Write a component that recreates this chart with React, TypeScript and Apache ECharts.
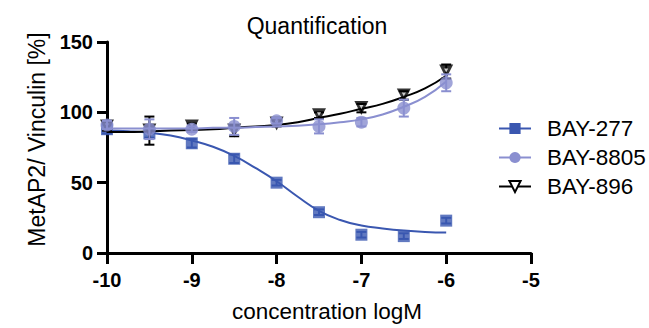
import React, { useEffect, useRef } from "react";
import * as echarts from "echarts";

const doses = [-10, -9.5, -9, -8.5, -8, -7.5, -7, -6.5, -6];
const bay277 = [88, 85, 78, 67, 50, 29, 13, 12, 23];
const bay277Err = [3, 3, 3, 3, 2, 2, 2, 2, 2];
const bay8805 = [91, 88, 88, 90, 94, 90, 93, 103, 121];
const bay8805Err = [3, 7, 2, 6, 2, 5, 3, 6, 6];
const bay896 = [90, 87, 90, 87, 92, 98, 103, 112, 129];
const bay896Err = [3, 10, 2, 4, 2, 2, 3, 3, 5];

// fitted curves
const fitX = [-10, -9.75, -9.5, -9.25, -9, -8.75, -8.5, -8.25, -8, -7.75, -7.5, -7.25, -7, -6.75, -6.5, -6.25, -6];
const fit277 = [87, 86.5, 85.5, 83.5, 80, 75.5, 69, 60.5, 51, 40, 30, 23.5, 19.5, 17.5, 16, 15, 14.5];
const fit8805 = [88.5, 88.5, 88.5, 88.5, 88.5, 89, 89, 89.5, 90, 90.5, 91.5, 93, 95, 98.5, 104, 111, 122];
const fit896 = [86, 86, 86.5, 87, 87.5, 88, 89, 90, 91, 93, 96, 99, 102.5, 106, 111, 117, 126];

const names = ["BAY-277", "BAY-8805", "BAY-896"];
const colors = ["#3a57b0", "#8a8fd0", "#000000"];

const FONT = "Liberation Sans, Arial, sans-serif";

export default function App() {
  const ref = useRef<HTMLDivElement>(null);
  useEffect(() => {
    document.body.style.margin = "0";
    const chart = echarts.init(ref.current!, undefined, { renderer: "svg" });
    const pts = (ys: number[]) => doses.map((x, i) => [x, ys[i]]);
    const errData = (ys: number[], es: number[]) => doses.map((x, i) => [x, ys[i] - es[i], ys[i] + es[i]]);
    const fit = (ys: number[]) => fitX.map((x, i) => [x, ys[i]]);
    const errSeries = (ys: number[], es: number[], color: string, z: number) => ({
      type: "custom",
      z,
      silent: true,
      renderItem: (params: any, api: any) => {
        const x = api.value(0);
        const lo = api.coord([x, api.value(1)]);
        const hi = api.coord([x, api.value(2)]);
        const w = 5;
        const style = { stroke: color, lineWidth: 2 };
        return {
          type: "group",
          children: [
            { type: "line", shape: { x1: lo[0], y1: lo[1], x2: hi[0], y2: hi[1] }, style },
            { type: "line", shape: { x1: lo[0] - w, y1: lo[1], x2: lo[0] + w, y2: lo[1] }, style },
            { type: "line", shape: { x1: hi[0] - w, y1: hi[1], x2: hi[0] + w, y2: hi[1] }, style },
          ],
        };
      },
      data: errData(ys, es),
    });
    const symbols = ["rect", "circle", "emptyTriangle"];
    const plotSymbols = ["rect", "circle", "triangle"];
    const rot = [0, 0, 180];
    const sizes = [12, 13, 14];
    const vals = [bay277, bay8805, bay896];
    const errs = [bay277Err, bay8805Err, bay896Err];
    const fits = [fit277, fit8805, fit896];
    const zBase = [2, 10, 6];
    const series: any[] = [];
    for (let k = 0; k < 3; k++) {
      series.push({
        name: names[k],
        type: "line",
        data: fit(fits[k]),
        smooth: true,
        showSymbol: false,
        symbol: symbols[k],
        symbolRotate: rot[k],
        lineStyle: { color: colors[k], width: 2 },
        itemStyle: { color: colors[k] },
        z: zBase[k],
        silent: true,
      });
    }
    for (let k = 0; k < 3; k++) {
      series.push(errSeries(vals[k], errs[k], colors[k], zBase[k] + 1));
      series.push({
        name: names[k],
        type: "scatter",
        data: pts(vals[k]),
        symbol: plotSymbols[k],
        symbolRotate: rot[k],
        symbolSize: sizes[k],
        itemStyle: { color: colors[k] },
        z: zBase[k] + 2,
        silent: true,
      });
    }
    // small white centre of the open triangles
    series.push({
      name: "BAY-896 inner",
      type: "scatter",
      data: pts(bay896),
      symbol: "triangle",
      symbolRotate: 180,
      symbolSize: 4,
      symbolOffset: [0, -1],
      itemStyle: { color: "#fff" },
      z: zBase[2] + 3,
      silent: true,
    });
    chart.setOption({
      animation: false,
      title: {
        text: "Quantification",
        left: 312,
        top: 9,
        textAlign: "center",
        textStyle: { fontFamily: FONT, fontSize: 23, fontWeight: "normal", color: "#000" },
      },
      legend: {
        data: names,
        orient: "vertical",
        left: 493,
        top: 112,
        itemWidth: 32,
        itemHeight: 14,
        itemGap: 6,
        textStyle: { fontFamily: FONT, fontSize: 22.5, color: "#000", padding: [0, 0, 0, 11] },
        selectedMode: false,
      },
      grid: { left: 107, right: 118, top: 42, bottom: 70, containLabel: false },
      xAxis: {
        type: "value",
        min: -10,
        max: -5,
        interval: 1,
        splitLine: { show: false },
        axisLine: { lineStyle: { color: "#000", width: 3 } },
        axisTick: { lineStyle: { color: "#000", width: 3 }, length: 11 },
        axisLabel: { color: "#000", fontFamily: FONT, fontSize: 20, fontWeight: "bold", margin: 17 },
        name: "concentration logM",
        nameLocation: "middle",
        nameGap: 47,
        nameTextStyle: { color: "#000", fontFamily: FONT, fontSize: 22.5, padding: [0, 0, 0, 16] },
      },
      yAxis: {
        type: "value",
        min: 0,
        max: 150,
        interval: 50,
        splitLine: { show: false },
        axisLine: { show: true, lineStyle: { color: "#000", width: 3 } },
        axisTick: { show: true, lineStyle: { color: "#000", width: 3 }, length: 10 },
        axisLabel: { color: "#000", fontFamily: FONT, fontSize: 20, fontWeight: "bold", margin: 14 },
        name: "MetAP2/ Vinculin [%]",
        nameLocation: "middle",
        nameGap: 53,
        nameTextStyle: { color: "#000", fontFamily: FONT, fontSize: 23, padding: [0, 0, 0, 16] },
      },
      series,
    });
    return () => chart.dispose();
  }, []);
  return <div ref={ref} style={{ width: 649, height: 328 }} />;
}
